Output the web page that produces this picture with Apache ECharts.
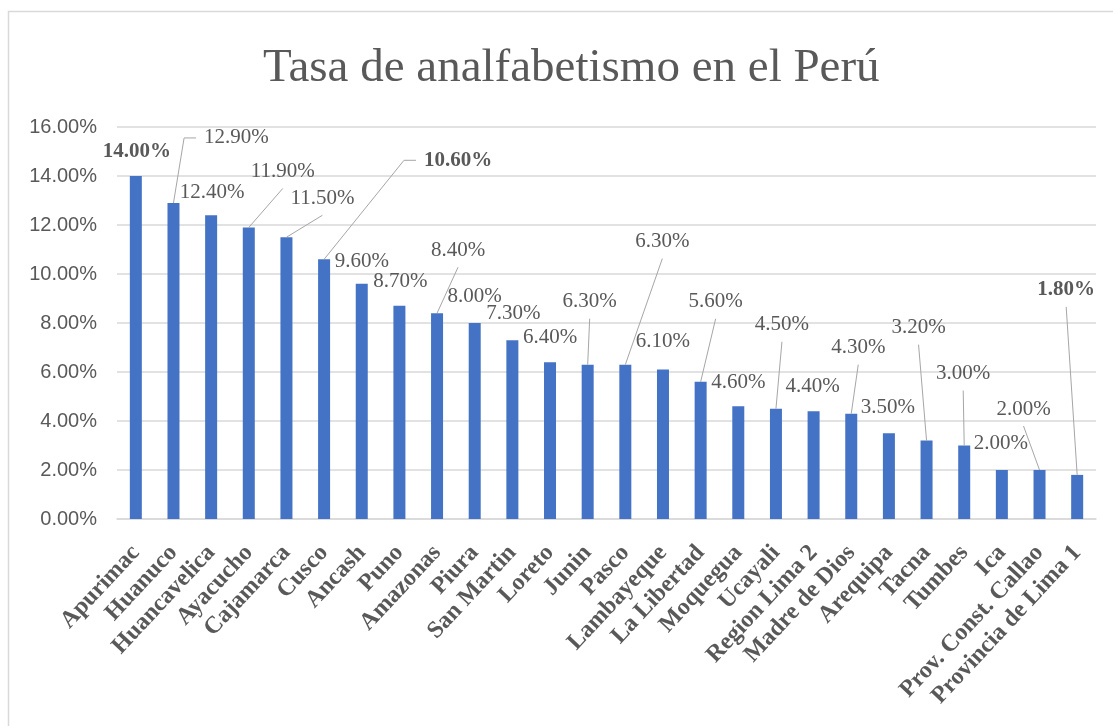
<!DOCTYPE html>
<html>
<head>
<meta charset="utf-8">
<script src="https://cdn.jsdelivr.net/npm/echarts@6/dist/echarts.min.js"></script>
<style>
  html, body { margin: 0; padding: 0; background: #fff; }
  #chart { width: 1113px; height: 726px; }
</style>
</head>
<body>
<div id="chart"></div>
<script>
// regiones y tasas (%)
var regiones = ['Apurimac', 'Huanuco', 'Huancavelica', 'Ayacucho', 'Cajamarca', 'Cusco',
  'Ancash', 'Puno', 'Amazonas', 'Piura', 'San Martin', 'Loreto', 'Junin', 'Pasco',
  'Lambayeque', 'La Libertad', 'Moquegua', 'Ucayali', 'Region Lima 2', 'Madre de Dios',
  'Arequipa', 'Tacna', 'Tumbes', 'Ica', 'Prov. Const. Callao', 'Provincia de Lima 1'];
var tasas = [14.0, 12.9, 12.4, 11.9, 11.5, 10.6, 9.6, 8.7, 8.4, 8.0, 7.3, 6.4, 6.3, 6.3,
  6.1, 5.6, 4.6, 4.5, 4.4, 4.3, 3.5, 3.2, 3.0, 2.0, 2.0, 1.8];
var ticksY = [0, 2, 4, 6, 8, 10, 12, 14, 16];

// posicion de cada etiqueta respecto a la punta de la barra [dx, dy, guia]
// guia: 0 sin linea, 1 linea al pie de la etiqueta, 2 linea con codo al lado izquierdo
var labelShift = [
  [1, -24, 0], [63, -65, 2], [1, -23, 0], [34, -56, 1], [36, -39, 1], [134, -99, 2],
  [0, -22, 0], [1, -24, 0], [21, -63, 1], [0, -27, 0], [1, -27, 0], [0, -25, 0],
  [2, -63, 1], [37, -123, 1], [0, -28, 0], [15, -80, 1], [0, -24, 0], [6, -84, 1],
  [-1, -25, 0], [7, -66, 1], [-1, -26, 0], [-8, -113, 1], [-1, -72, 1], [-1, -27, 0],
  [-16, -61, 1], [-11, -185, 1]
];
var boldLabels = [0, 5, 25];

var gris = '#595959';
var linea = '#d9d9d9';
var labelSize = 21;

var ctx = document.createElement('canvas').getContext('2d');
function textWidth(t, bold) {
  ctx.font = (bold ? 'bold ' : '') + labelSize + 'px "Liberation Serif"';
  return ctx.measureText(t).width;
}
function pct(v) { return v.toFixed(2) + '%'; }

var chart = echarts.init(document.getElementById('chart'), null, { renderer: 'canvas' });

chart.setOption({
  animation: false,
  backgroundColor: '#fff',
  graphic: [{
    type: 'rect',
    shape: { x: 8.5, y: 11.5, width: 1200, height: 800 },
    style: { fill: 'none', stroke: '#d9d9d9', lineWidth: 1.5 },
    silent: true
  }],
  title: {
    text: 'Tasa de analfabetismo en el Perú',
    left: 258,
    top: 40,
    textStyle: { fontFamily: 'Liberation Serif', fontSize: 47, fontWeight: 'normal', color: gris }
  },
  grid: { left: 117, right: 17, top: 127, bottom: 207, containLabel: false },
  xAxis: {
    type: 'category',
    data: regiones,
    axisTick: { show: false },
    axisLine: { lineStyle: { color: linea, width: 1.5 } },
    axisLabel: {
      interval: 0,
      rotate: 47,
      margin: 30,
      color: gris,
      fontFamily: 'Liberation Serif',
      fontWeight: 'bold',
      fontSize: 24
    }
  },
  yAxis: {
    type: 'value',
    min: ticksY[0],
    max: ticksY[ticksY.length - 1],
    interval: 2,
    axisLine: { show: false },
    axisTick: { show: false },
    splitLine: { lineStyle: { color: linea, width: 1.5 } },
    axisLabel: {
      margin: 20,
      color: gris,
      fontFamily: 'Liberation Sans',
      fontSize: 20,
      formatter: function (v) { return pct(v); }
    }
  },
  series: [{
    type: 'bar',
    data: tasas,
    barWidth: 12,
    itemStyle: { color: '#4472C4' }
  }, {
    // etiquetas de datos con lineas guia
    type: 'custom',
    clip: false,
    z: 5,
    silent: true,
    data: tasas.map(function (v, i) { return [i, v]; }),
    renderItem: function (params, api) {
      var i = api.value(0);
      var v = api.value(1);
      var p = api.coord([i, v]);
      var s = labelShift[i];
      var bold = boldLabels.indexOf(i) >= 0;
      var txt = pct(v);
      var lx = p[0] + s[0];
      var ly = p[1] + s[1];
      var w = textWidth(txt, bold);
      var children = [{
        type: 'text',
        x: lx,
        y: ly,
        style: {
          text: txt,
          align: 'center',
          verticalAlign: 'middle',
          fill: gris,
          fontFamily: 'Liberation Serif',
          fontSize: labelSize,
          fontWeight: bold ? 'bold' : 'normal'
        }
      }];
      var pts = null;
      if (s[2] === 1) {
        pts = [p, [lx, ly + 17]];
      } else if (s[2] === 2) {
        pts = [p, [lx - w / 2 - 20, ly], [lx - w / 2 - 8, ly]];
      }
      if (pts) {
        children.push({
          type: 'polyline',
          shape: { points: pts },
          style: { stroke: '#a6a6a6', lineWidth: 1, fill: null }
        });
      }
      return { type: 'group', children: children };
    }
  }]
});
</script>
</body>
</html>
